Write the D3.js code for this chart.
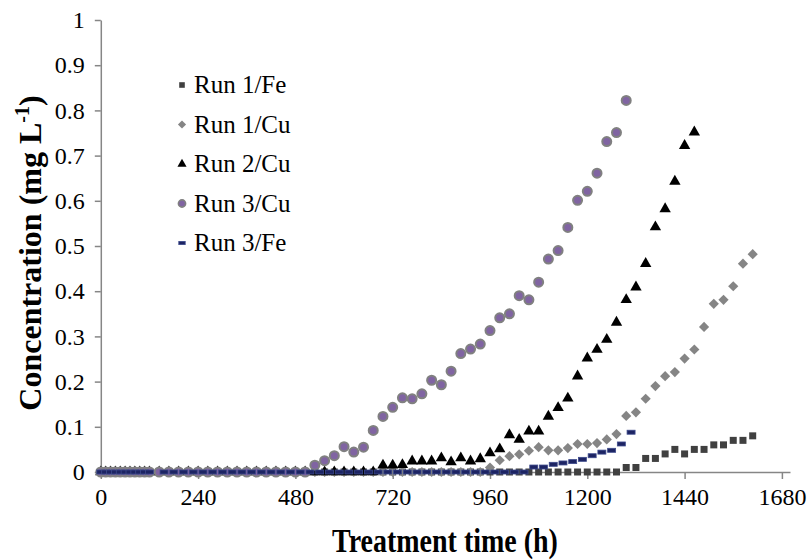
<!DOCTYPE html>
<html>
<head>
<meta charset="utf-8">
<script src="https://cdn.jsdelivr.net/npm/d3@7"></script>
<style>
  html, body { margin: 0; padding: 0; background: #fff; }
  svg { display: block; }
  text { font-family: "Liberation Serif", "Times New Roman", serif; fill: #000; }
</style>
</head>
<body>
<svg id="chart" width="809" height="560"></svg>
<script>
// Sampling times (h) shared by Run 1/Fe, Run 1/Cu, Run 2/Cu and Run 3/Cu
const hours = [0,12,24,36,48,60,72,84,96,108,120,
  144,168,192,216,240,264,288,312,336,360,384,408,432,456,480,504,
  528,552,576,600,624,648,672,696,720,744,768,792,816,840,864,888,912,936,
  960,984,1008,1032,1056,1080,1104,1128,1152,1176,1200,1224,1248,1272,
  1296,1320,1344,1368,1392,1416,1440,1464,1488,1512,1536,1560,1584,1608];

// Concentrations (mg/L); null = no sample
const run1Fe = [0,0,0,0,0,0,0,0,0,0,0,
  0,0,0,0,0,0,0,0,0,0,0,0,0,0,0,0,
  0,0,0,0,0,0,0,0,0,0,0,0,0,0,0,0,0,0,
  0,0,0,0,0,0,0,0,0,0,0,0,0,0,
  0.01,0.01,0.03,0.03,0.04,0.05,0.04,0.05,0.05,0.06,0.06,0.07,0.07,0.08];

const run1Cu = [0,0,0,0,0,0,0,0,0,0,0,
  0,0,0,0,0,0,0,0,0,0,0,0,0,0,0,0,
  0,0,0,0,0,0,0,0,0,0,0,0,0,0,0,0,0,0,
  0.01,0.026,0.035,0.039,0.047,0.055,0.048,0.048,0.053,0.062,0.062,0.064,0.072,0.084,
  0.124,0.132,0.162,0.19,0.212,0.221,0.251,0.271,0.321,0.372,0.381,0.411,0.461,0.482];

const run2Cu = [0,0,0,0,0,0,0,0,0,0,0,
  0,0,0,0,0,0,0,0,0,0,0,0,0,0,0,0,
  0,0,0,0,0,0,0,0.015,0.015,0.016,0.024,0.024,0.024,0.031,0.022,0.031,0.024,0.029,
  0.042,0.051,0.082,0.072,0.09,0.09,0.123,0.142,0.163,0.212,0.252,0.271,0.293,0.331,
  0.381,0.409,0.461,0.542,0.582,0.643,0.722,0.752,null,null,null,null,null,null];

const run3Cu = [0,0,0,0,0,0,0,0,0,0,0,
  0,0,0,0,0,0,0,0,0,0,0,0,0,0,0,0,
  0.015,0.025,0.036,0.056,0.044,0.055,0.092,0.123,0.143,0.164,0.162,0.173,0.203,0.193,0.223,0.262,0.272,0.283,
  0.313,0.341,0.35,0.39,0.381,0.42,0.471,0.49,0.541,0.601,0.621,0.661,0.731,0.751,
  0.822,null,null,null,null,null,null,null,null,null,null,null,null,null];

// Run 3/Fe was sampled on its own schedule
const run3FeHours = [0,12,24,36,48,60,72,84,96,108,120,
  156,180,204,228,252,276,300,324,348,372,396,420,444,468,492,516,
  540,564,588,612,636,660,684,708,732,756,780,804,828,852,876,900,924,948,
  972,996,1020,1044,1068,1092,1116,1140,1164,1188,1212,1236,1260,1284,1308];
const run3Fe = [0,0,0,0,0,0,0,0,0,0,0,
  0,0,0,0,0,0,0,0,0,0,0,0,0,0,0,0,
  0,0,0,0,0,0,0,0,0,0,0,0,0,0,0,0,0,0,
  0,0,0,0,0.011,0.011,0.017,0.02,0.023,0.028,0.036,0.044,0.048,0.062,0.088];

const seriesNames = ["Run 1/Fe", "Run 1/Cu", "Run 2/Cu", "Run 3/Cu", "Run 3/Fe"];
const xTicks = [0, 240, 480, 720, 960, 1200, 1440, 1680];
const yTicks = [0, 0.1, 0.2, 0.3, 0.4, 0.5, 0.6, 0.7, 0.8, 0.9, 1];

const svg = d3.select("#chart");
const x = d3.scaleLinear().domain([0, 1700]).range([100.8, 790]);
const y = d3.scaleLinear().domain([0, 1]).range([472, 20]);

const axisColor = "#868686";

// Axes
const xAxis = svg.append("g")
  .attr("transform", `translate(0,${y(0)})`)
  .call(d3.axisBottom(x).tickValues(xTicks).tickSize(7).tickPadding(9).tickSizeOuter(0)
    .tickFormat(d3.format("d")));
const yAxis = svg.append("g")
  .attr("transform", `translate(${x(0)},0)`)
  .call(d3.axisLeft(y).tickValues(yTicks).tickSize(6).tickPadding(10).tickSizeOuter(0)
    .tickFormat(d => d === 0 || d === 1 ? d3.format("d")(d) : d3.format(".1f")(d)));
[xAxis, yAxis].forEach(g => {
  g.select(".domain").attr("stroke", axisColor).attr("stroke-width", 1.5);
  g.selectAll(".tick line").attr("stroke", axisColor).attr("stroke-width", 1.5);
  g.selectAll(".tick text").attr("font-size", 24).attr("fill", "#000")
    .attr("font-family", "Liberation Serif, Times New Roman, serif");
});

// Marker styles for each series
const styles = [
  { name: seriesNames[0], hours: hours, values: run1Fe, type: "square" },
  { name: seriesNames[1], hours: hours, values: run1Cu, type: "diamond" },
  { name: seriesNames[2], hours: hours, values: run2Cu, type: "triangle" },
  { name: seriesNames[3], hours: hours, values: run3Cu, type: "circle" },
  { name: seriesNames[4], hours: run3FeHours, values: run3Fe, type: "dash" }
];

function drawMarker(g, type, scale) {
  const s = scale || 1;
  if (type === "square") {
    g.append("path").attr("d", d3.symbol(d3.symbolSquare, 49 * s * s)())
      .attr("fill", "#404040");
  } else if (type === "diamond") {
    g.append("path").attr("d", d3.symbol(d3.symbolSquare, 52 * s * s)())
      .attr("transform", "rotate(45)").attr("fill", "#858585");
  } else if (type === "triangle") {
    g.append("path").attr("d", d3.symbol(d3.symbolTriangle, 56 * s * s)())
      .attr("fill", "#000");
  } else if (type === "circle") {
    g.append("circle").attr("r", 4.5 * s).attr("fill", "#8064A2")
      .attr("stroke", "#808080").attr("stroke-width", 2 * s);
  } else if (type === "dash") {
    g.append("rect").attr("x", -4 * s).attr("y", -2 * s).attr("width", 8 * s).attr("height", 4 * s)
      .attr("fill", "#1d2463").attr("stroke", "#3d4a8c").attr("stroke-width", 0.8);
  }
}

// Data points
styles.forEach(sr => {
  const pts = sr.hours.map((h, i) => ({ h, v: sr.values[i] })).filter(d => d.v !== null);
  const g = svg.append("g");
  g.selectAll("g").data(pts).join("g")
    .attr("transform", d => `translate(${x(d.h)},${y(d.v)})`)
    .each(function () { drawMarker(d3.select(this), sr.type, 1); });
});

// Legend
const legend = svg.append("g");
styles.forEach((sr, i) => {
  const cy = 85 + i * 39.5;
  const m = legend.append("g").attr("transform", `translate(182,${cy})`);
  drawMarker(m, sr.type, 0.8);
  legend.append("text").attr("x", 194).attr("y", cy + 8).attr("font-size", 25).text(sr.name);
});

// Axis titles
svg.append("text")
  .attr("transform", "translate(445,552) scale(1,1.2)")
  .attr("text-anchor", "middle")
  .attr("font-size", 28).attr("font-weight", "bold")
  .text("Treatment time (h)");

const yTitle = svg.append("text")
  .attr("transform", "translate(41,253) rotate(-90)")
  .attr("text-anchor", "middle")
  .attr("font-size", 32).attr("font-weight", "bold");
yTitle.append("tspan").text("Concentration (mg L");
yTitle.append("tspan").attr("dy", -12).attr("font-size", 20).text("-1");
yTitle.append("tspan").attr("dy", 12).text(")");
</script>
</body>
</html>
